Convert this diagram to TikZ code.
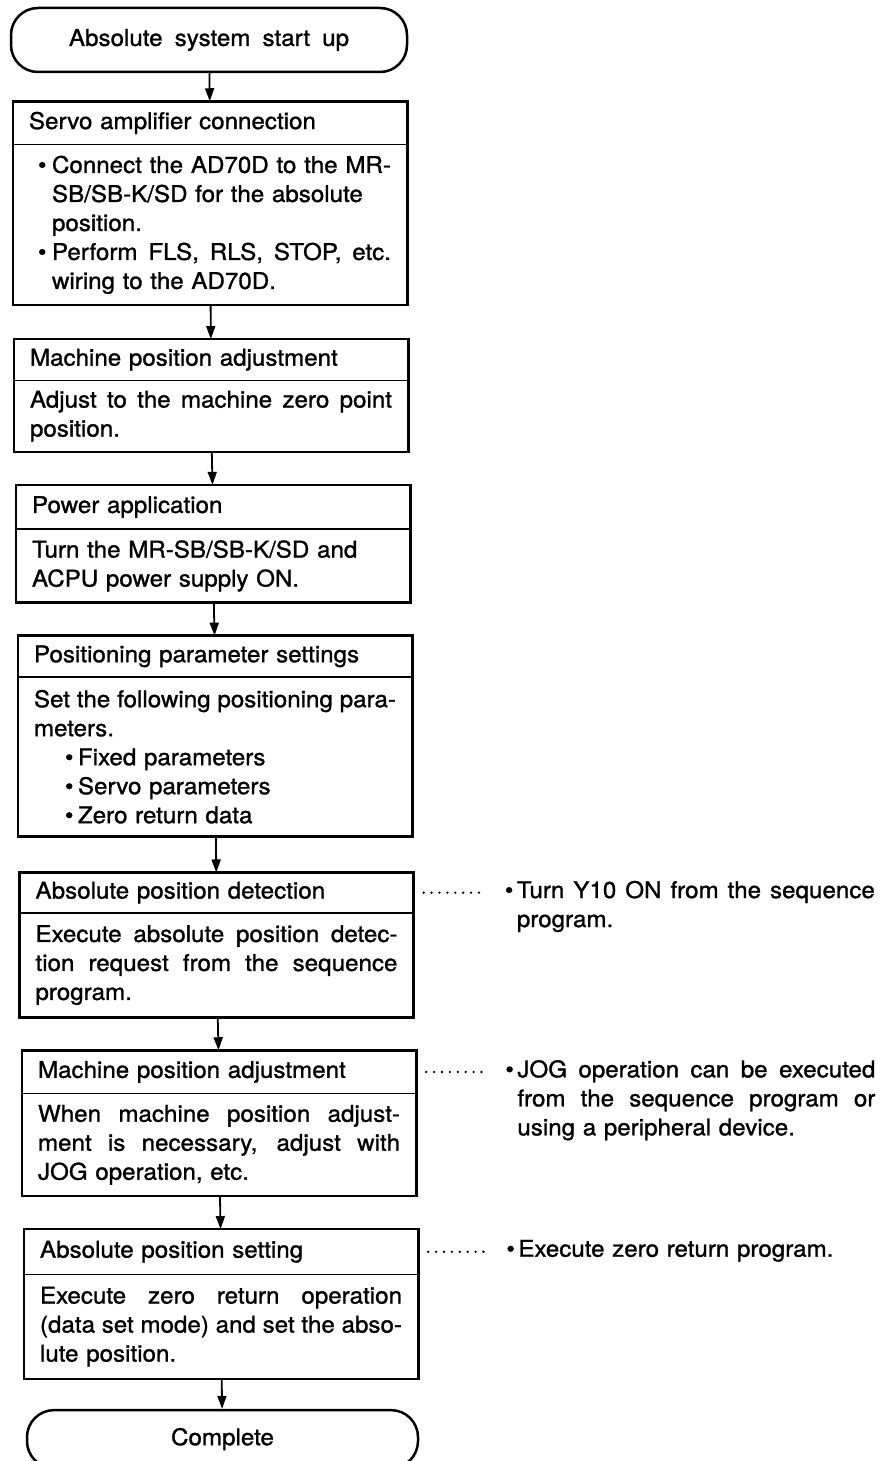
\documentclass[tikz,border=0pt]{standalone}
\usepackage{fontspec}
\setmainfont{TeX Gyre Heros}[FakeStretch=1.05,FakeBold=1.2,WordSpace=1.8]
\usepackage{tikz}
\usetikzlibrary{arrows.meta}
\usetikzlibrary{positioning}

% full justified line, and a bullet in a box of given width
\newcommand\jline[2][\linewidth]{\makebox[#1][s]{\spaceskip=.2em plus 3em\relax#2}}
\newcommand\bdot[1]{\makebox[#1][l]{\textbullet}}

\begin{document}
\begin{tikzpicture}
        [x=1pt,y=-1pt,
          every node/.style={font=\fontsize{23}{29}\selectfont,inner sep=0pt},
          term/.style={draw,line width=2.5pt,rounded corners=27pt,minimum width=396pt},
          boxhead/.style={text width=362pt,inner xsep=16pt,align=left,minimum height=#1},
          boxbody/.style={text width=362pt,inner xsep=16pt,align=left,minimum height=#1},
          remark/.style={text width=370pt,align=left,anchor=north west},
          boxframe/.style={line width=2.6pt},
          boxrule/.style={line width=1.6pt},
          flow/.style={-{Triangle[length=13pt,width=9pt]},line width=1.8pt},
          leader/.style={line width=2.6pt,line cap=round,dash pattern=on 0pt off 7.9pt}]
        \useasboundingbox (0,0) rectangle (890,1461);
        \node[term,minimum height=64pt] (start) at (209,40) {Absolute system start up};
        \node[boxhead=43pt,below=28pt of start,xshift=1pt] (conn-h) {Servo amplifier connection};
        \node[boxbody=160pt,below=0pt of conn-h] (conn-b)
          {\hspace*{9pt}\bdot{14pt}\jline[339pt]{Connect the AD70D to the MR-}\\
           \hspace*{23pt}SB/SB-K/SD for the absolute\\
           \hspace*{23pt}position.\\
           \hspace*{9pt}\bdot{14pt}\jline[339pt]{Perform FLS, RLS, STOP, etc.}\\
           \hspace*{23pt}wiring to the AD70D.};
        \node[boxhead=41pt,below=34pt of conn-b,xshift=1pt] (mpos-h) {Machine position adjustment};
        \node[boxbody=71pt,below=0pt of mpos-h] (mpos-b)
          {\jline{Adjust to the machine zero point}\\ position.};
        \node[boxhead=44pt,below=33pt of mpos-b,xshift=2pt] (pwr-h) {Power application};
        \node[boxbody=73pt,below=0pt of pwr-h] (pwr-b)
          {Turn the MR-SB/SB-K/SD and\\ ACPU power supply ON.};
        \node[boxhead=41pt,below=33pt of pwr-b,xshift=2pt] (par-h) {Positioning parameter settings};
        \node[boxbody=159pt,below=0pt of par-h] (par-b)
          {\jline{Set the following positioning para-}\\ meters.\\
           \hspace*{31pt}\bdot{13pt}Fixed parameters\\
           \hspace*{31pt}\bdot{13pt}Servo parameters\\
           \hspace*{31pt}\bdot{13pt}Zero return data};
        \node[boxhead=40pt,below=36pt of par-b,xshift=1.5pt] (det-h) {Absolute position detection};
        \node[boxbody=104pt,below=0pt of det-h] (det-b)
          {\jline{Execute absolute position detec-}\\
           \jline{tion request from the sequence}\\ program.};
        \node[boxhead=43pt,below=33pt of det-b,xshift=2.5pt] (adj-h) {Machine position adjustment};
        \node[boxbody=102pt,below=0pt of adj-h] (adj-b)
          {\jline{When machine position adjust-}\\
           \jline{ment is necessary, adjust with}\\ JOG operation, etc.};
        \node[boxhead=45pt,below=33pt of adj-b,xshift=2pt] (zset-h) {Absolute position setting};
        \node[boxbody=104pt,below=0pt of zset-h] (zset-b)
          {\jline{Execute zero return operation}\\
           \jline{(data set mode) and set the abso-}\\ lute position.};
        \node[term,minimum height=58pt,minimum width=391pt,below=30pt of zset-b,xshift=1.5pt] (done) {Complete};
        % remarks on the right
        \node[remark] (det-n) at ([xshift=91pt,yshift=12pt]det-h.east)
          {\bdot{12pt}\jline[358pt]{Turn Y10 ON from the sequence}\\ \hspace*{12pt}program.};
        \node[remark] (adj-n) at ([xshift=89pt,yshift=12pt]adj-h.east)
          {\bdot{12pt}\jline[358pt]{JOG operation can be executed}\\
           \hspace*{12pt}\jline[358pt]{from the sequence program or}\\
           \hspace*{12pt}using a peripheral device.};
        \node[remark] (zset-n) at ([xshift=88pt,yshift=12pt]zset-h.east)
          {\bdot{12pt}Execute zero return program.};
        \foreach \b in {conn,mpos,pwr,par,det,adj,zset}
          {\draw[boxframe] (\b-h.north west) rectangle (\b-b.south east);
           \draw[boxrule] (\b-h.south west) -- (\b-h.south east);}
        \foreach \b in {det,adj,zset}
          \draw[leader] ([xshift=10pt]\b-h.east) -- ([xshift=-22pt]\b-h.east -| \b-n.west);
        \foreach \from/\to in {start/conn-h,conn-b/mpos-h,mpos-b/pwr-h,pwr-b/par-h,par-b/det-h,det-b/adj-h,adj-b/zset-h,zset-b/done}
          \draw[flow] (\from) -- (\to);
      \end{tikzpicture}
\end{document}
